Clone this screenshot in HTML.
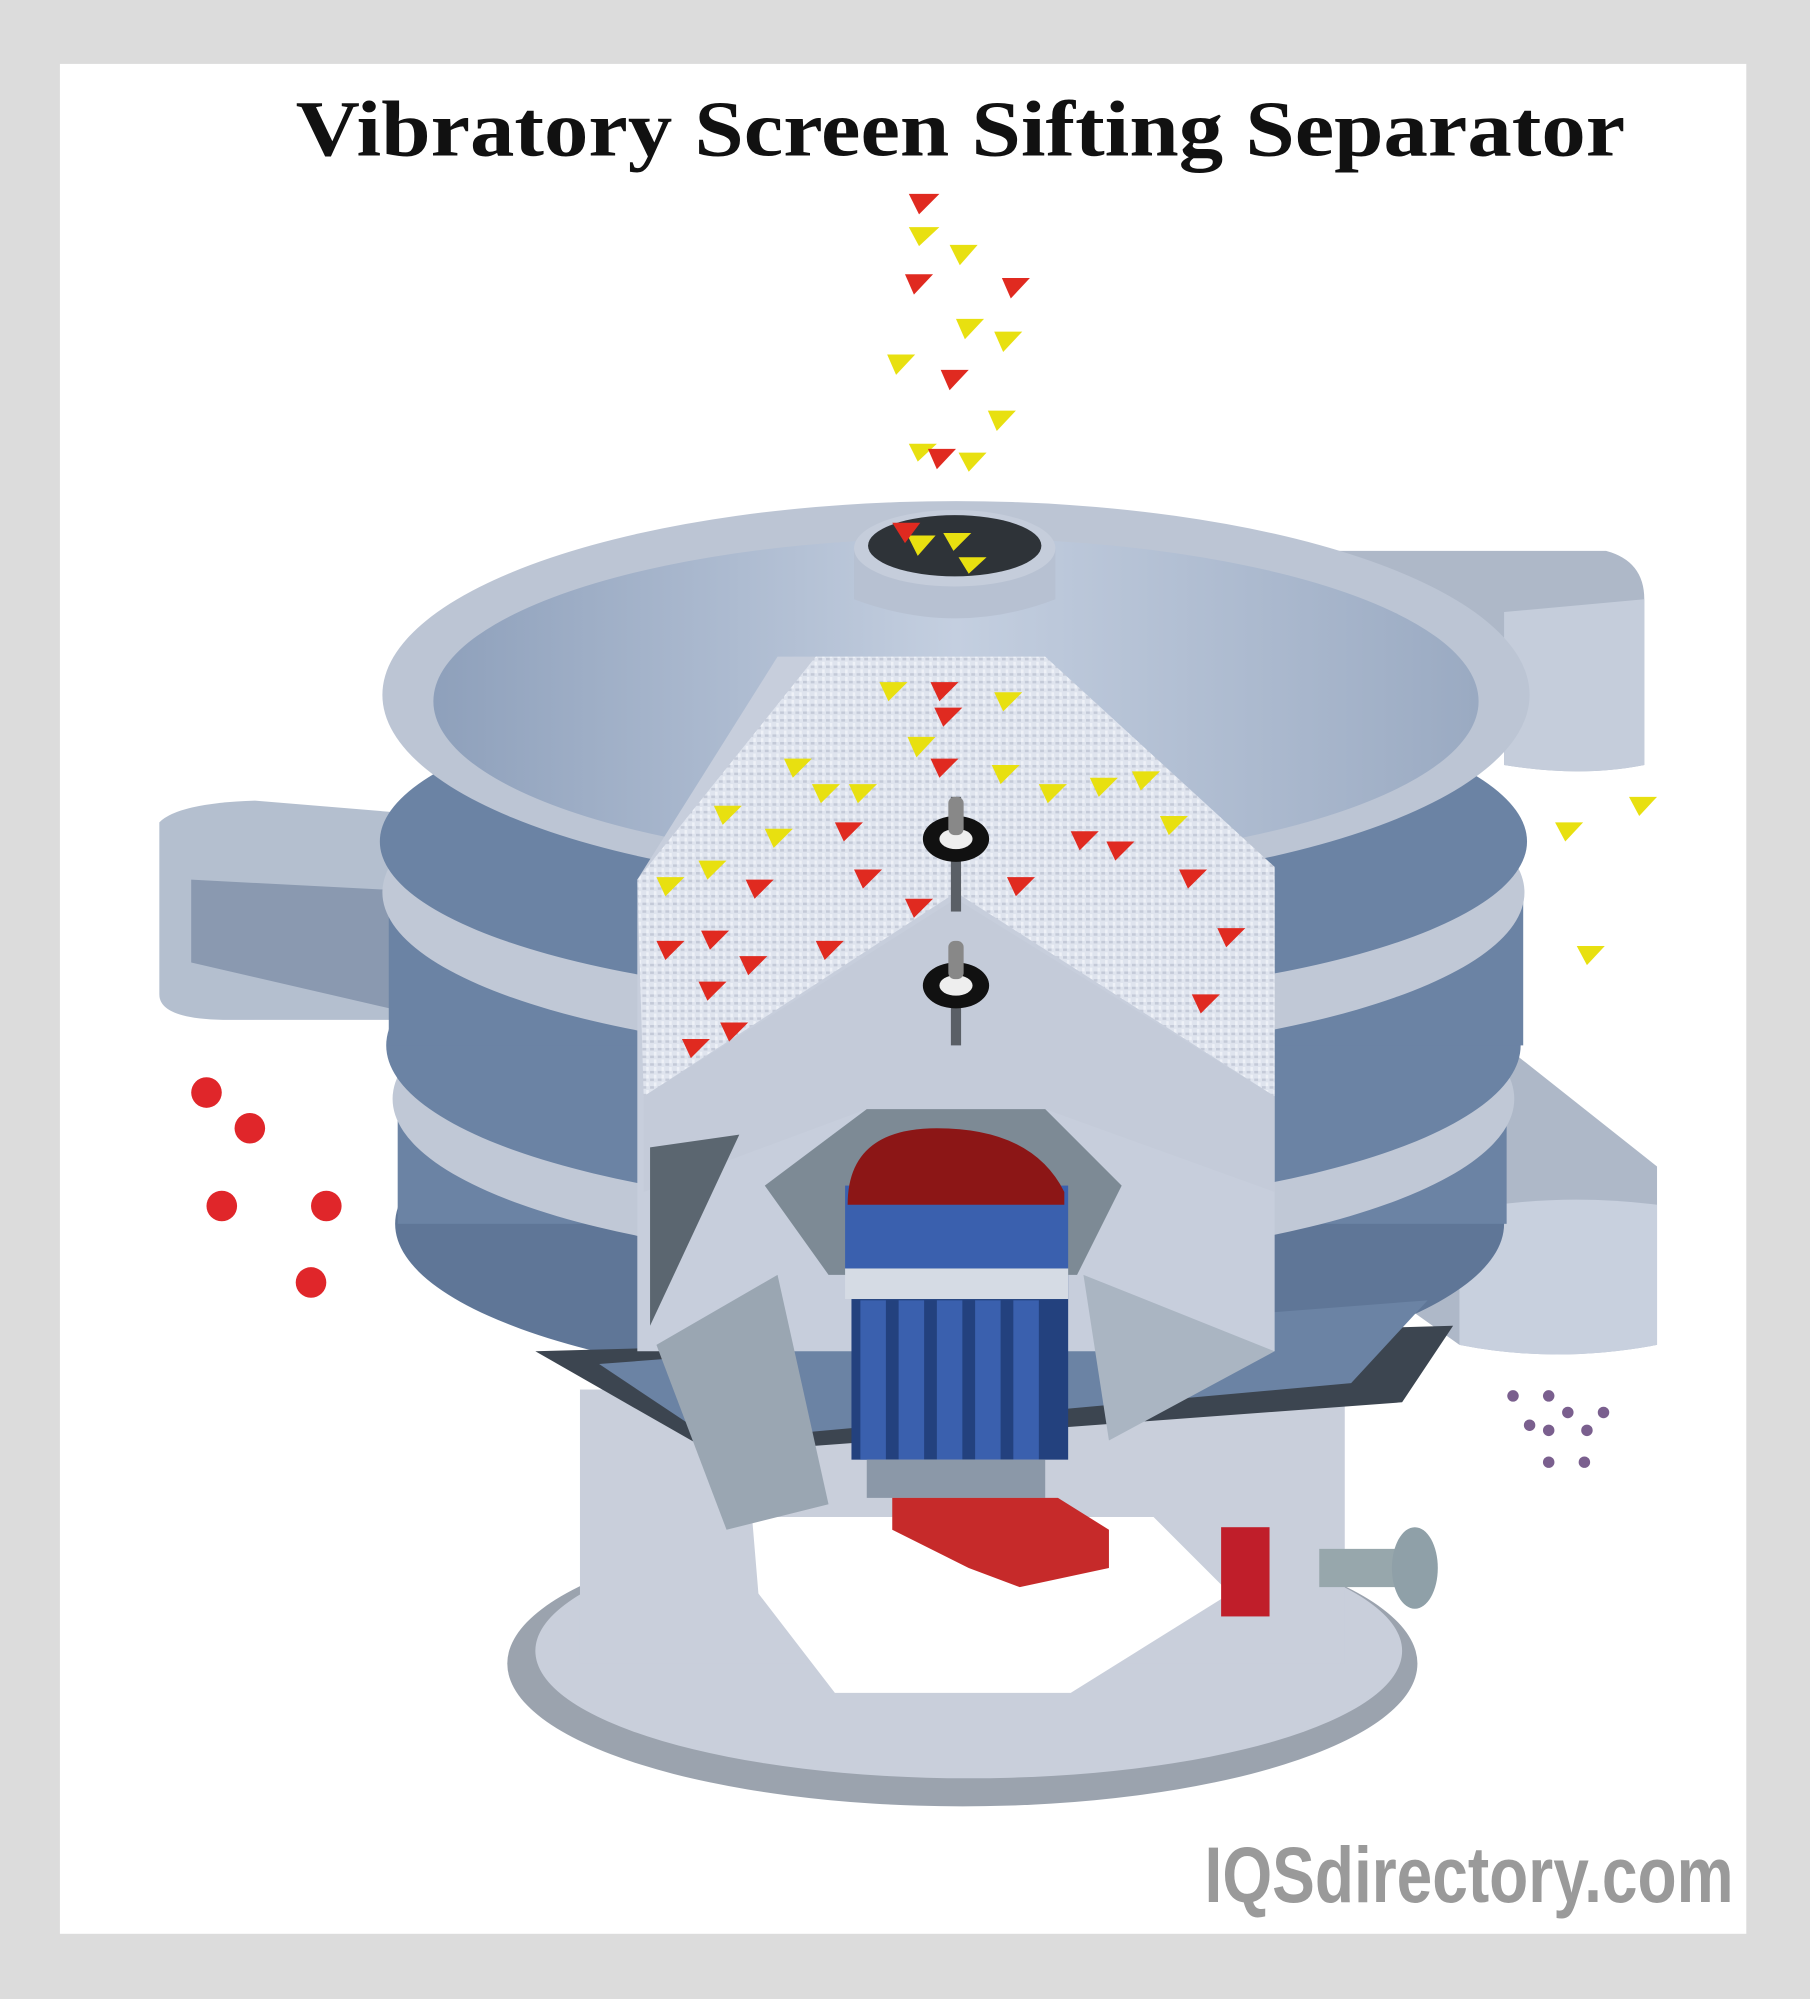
<!DOCTYPE html>
<html><head><meta charset="utf-8"><style>
html,body{margin:0;padding:0;background:#dcdcdc;}
svg{display:block;}
</style></head><body>
<svg width="1810" height="1999" viewBox="0 0 1420 1568" xmlns="http://www.w3.org/2000/svg">
<defs>
<pattern id="tex" width="6" height="6" patternUnits="userSpaceOnUse">
<rect width="6" height="6" fill="#dfe4ee"/><rect x="0" y="0" width="3" height="2" fill="#c4cad8"/><rect x="3" y="3" width="2" height="3" fill="#eef1f7"/>
</pattern>
<linearGradient id="inner" x1="0" x2="1"><stop offset="0" stop-color="#8ea0bb"/><stop offset="0.5" stop-color="#c4cfe0"/><stop offset="1" stop-color="#9aaac2"/></linearGradient>
</defs>
<rect x="0" y="0" width="1420" height="1568" fill="#dcdcdc"/>
<rect x="47" y="50" width="1323" height="1467" fill="#fff"/>
<text x="232" y="122" font-family="Liberation Serif, serif" font-weight="bold" font-size="62" fill="#111" textLength="1043" lengthAdjust="spacingAndGlyphs">Vibratory Screen Sifting Separator</text>

<ellipse cx="755" cy="1305" rx="357" ry="112" fill="#9ba3ae"/>
<ellipse cx="760" cy="1295" rx="340" ry="100" fill="#c9cfdb"/>
<rect x="455" y="1090" width="600" height="215" fill="#c9cfdb"/>
<polygon points="590,1190 905,1190 965,1250 840,1328 655,1328 595,1250" fill="#fff"/>

<path d="M1030,432 L1260,432 Q1290,440 1290,470 L1290,600 Q1240,610 1180,600 L1180,500 L1030,500 Z" fill="#aeb8c8"/>
<path d="M1180,480 L1290,470 L1290,600 Q1240,610 1180,600 Z" fill="#c5cddb"/>
<path d="M1110,830 L1180,820 L1300,915 L1300,1055 Q1220,1070 1145,1055 L1110,1030 Z" fill="#aeb8c8"/>
<path d="M1145,950 Q1220,935 1300,945 L1300,1055 Q1220,1070 1145,1055 Z" fill="#c8d0de"/>
<path d="M125,645 Q140,630 200,628 L345,640 L345,800 L180,800 Q125,800 125,780 Z" fill="#b4bfcf"/>
<path d="M150,690 L345,700 L345,800 L150,755 Z" fill="#8a99b0"/>

<ellipse cx="745" cy="960" rx="435" ry="130" fill="#5f7697"/>
<rect x="312" y="860" width="870" height="100" fill="#6b83a4"/>
<ellipse cx="748" cy="862" rx="440" ry="130" fill="#c0c8d6"/>
<ellipse cx="748" cy="820" rx="445" ry="130" fill="#6b83a4"/>
<rect x="305" y="700" width="890" height="120" fill="#6b83a4"/>
<ellipse cx="748" cy="700" rx="448" ry="130" fill="#c0c8d6"/>
<ellipse cx="748" cy="660" rx="450" ry="125" fill="#6b83a4"/>
<ellipse cx="750" cy="545" rx="450" ry="152" fill="#bcc5d4"/>
<ellipse cx="750" cy="550" rx="410" ry="128" fill="url(#inner)"/>
<path d="M420,1060 L1140,1040 L1100,1100 L560,1140 Z" fill="#3c4550"/>
<path d="M470,1070 L1120,1020 L1060,1085 L560,1130 Z" fill="#6b83a4"/>

<path d="M670,430 L828,430 L828,470 Q750,500 670,470 Z" fill="#b7c1d2"/>
<ellipse cx="749" cy="430" rx="79" ry="30" fill="#c5cddb"/>
<ellipse cx="749" cy="428" rx="68" ry="24" fill="#2e3338"/>

<polygon points="500,690 610,515 810,515 1000,690 1000,1060 500,1060" fill="#c7cedc"/>
<polygon points="500,690 640,515 820,515 1000,680 1000,860 750,700 505,860" fill="url(#tex)"/>
<polygon points="505,860 750,705 1000,860 1000,935 820,870 680,870 505,935" fill="#c4cbd9"/>
<polygon points="510,900 580,890 510,1040" fill="#5b6670"/>
<polygon points="600,930 680,870 820,870 880,930 845,1000 650,1000" fill="#7d8a95"/>
<polygon points="515,1055 610,1000 650,1180 570,1200" fill="#9aa6b2"/>
<polygon points="850,1000 1000,1060 870,1130" fill="#aab5c2"/>
<rect x="668" y="1000" width="170" height="145" fill="#23417e"/>
<g fill="#3a60ae"><rect x="675" y="1020" width="20" height="125"/><rect x="705" y="1020" width="20" height="125"/><rect x="735" y="1020" width="20" height="125"/><rect x="765" y="1020" width="20" height="125"/><rect x="795" y="1020" width="20" height="125"/></g>
<rect x="663" y="995" width="175" height="24" fill="#d5dbe4"/>
<rect x="663" y="930" width="175" height="65" fill="#3a60ae"/>
<path d="M665,945 Q665,885 735,885 Q810,885 835,935 L835,945 Z" fill="#8c1616"/>
<rect x="680" y="1145" width="140" height="30" fill="#8b98a8"/>
<polygon points="700,1175 830,1175 870,1200 870,1230 800,1245 760,1230 700,1200" fill="#c62a2a"/>
<rect x="958" y="1198" width="38" height="70" fill="#c01e2a"/>
<rect x="1035" y="1215" width="60" height="30" fill="#97a7ac"/>
<ellipse cx="1110" cy="1230" rx="18" ry="32" fill="#8fa0a8"/>
<g><rect x="746" y="625" width="8" height="90" fill="#5a5f66"/><ellipse cx="750" cy="658" rx="26" ry="18" fill="#111"/><ellipse cx="750" cy="658" rx="13" ry="8" fill="#eee"/><rect x="744" y="625" width="12" height="30" rx="5" fill="#888"/></g>
<g><rect x="746" y="740" width="8" height="80" fill="#5a5f66"/><ellipse cx="750" cy="773" rx="26" ry="18" fill="#111"/><ellipse cx="750" cy="773" rx="13" ry="8" fill="#eee"/><rect x="744" y="738" width="12" height="30" rx="5" fill="#888"/></g>

<g fill="#e8e010">
<polygon points="713,178 737,178 721,193"/><polygon points="745,192 767,192 753,208"/><polygon points="696,278 718,278 703,294"/><polygon points="750,250 772,250 757,266"/><polygon points="780,260 802,260 787,276"/><polygon points="775,322 797,322 782,338"/><polygon points="713,348 735,348 720,362"/><polygon points="752,355 774,355 760,370"/>
<polygon points="690,535 712,535 697,550"/><polygon points="780,543 802,543 787,558"/><polygon points="712,578 734,578 719,594"/><polygon points="615,595 637,595 622,610"/><polygon points="560,632 582,632 567,647"/><polygon points="637,615 659,615 644,630"/><polygon points="666,615 688,615 673,630"/><polygon points="600,650 622,650 607,665"/><polygon points="548,675 570,675 555,690"/><polygon points="515,688 537,688 522,703"/><polygon points="778,600 800,600 785,615"/><polygon points="815,615 837,615 822,630"/><polygon points="855,610 877,610 862,625"/><polygon points="888,605 910,605 895,620"/><polygon points="910,640 932,640 917,655"/>
<polygon points="1220,645 1242,645 1228,660"/><polygon points="1278,625 1300,625 1286,640"/><polygon points="1237,742 1259,742 1245,757"/>
<polygon points="712,420 734,420 720,436"/><polygon points="740,418 762,418 748,432"/><polygon points="752,437 774,437 760,450"/>
</g>
<g fill="#e02a20">
<polygon points="713,152 737,152 721,168"/><polygon points="710,215 732,215 717,231"/><polygon points="786,218 808,218 793,234"/><polygon points="738,290 760,290 745,306"/><polygon points="728,352 750,352 735,368"/><polygon points="700,410 722,410 710,426"/>
<polygon points="730,535 752,535 737,550"/><polygon points="733,555 755,555 740,570"/><polygon points="730,595 752,595 737,610"/><polygon points="655,645 677,645 662,660"/><polygon points="670,682 692,682 677,697"/><polygon points="585,690 607,690 592,705"/><polygon points="550,730 572,730 557,745"/><polygon points="515,738 537,738 522,753"/><polygon points="640,738 662,738 647,753"/><polygon points="580,750 602,750 587,765"/><polygon points="548,770 570,770 555,785"/><polygon points="565,802 587,802 572,817"/><polygon points="535,815 557,815 542,830"/><polygon points="710,705 732,705 717,720"/><polygon points="790,688 812,688 797,703"/><polygon points="840,652 862,652 847,667"/><polygon points="868,660 890,660 875,675"/><polygon points="925,682 947,682 932,697"/><polygon points="955,728 977,728 962,743"/><polygon points="935,780 957,780 942,795"/>
</g>
<g fill="#e0262a"><circle cx="162" cy="857" r="12"/><circle cx="196" cy="885" r="12"/><circle cx="174" cy="946" r="12"/><circle cx="256" cy="946" r="12"/><circle cx="244" cy="1006" r="12"/></g>
<g fill="#7a5f8e"><circle cx="1187" cy="1095" r="4.5"/><circle cx="1215" cy="1095" r="4.5"/><circle cx="1230" cy="1108" r="4.5"/><circle cx="1258" cy="1108" r="4.5"/><circle cx="1200" cy="1118" r="4.5"/><circle cx="1215" cy="1122" r="4.5"/><circle cx="1245" cy="1122" r="4.5"/><circle cx="1215" cy="1147" r="4.5"/><circle cx="1243" cy="1147" r="4.5"/></g>

<text x="1360" y="1492" text-anchor="end" font-family="Liberation Sans Narrow, Liberation Sans, sans-serif" font-weight="bold" font-size="62" fill="#9a9a9a" textLength="415" lengthAdjust="spacingAndGlyphs">IQSdirectory.com</text>
</svg>
</body></html>
